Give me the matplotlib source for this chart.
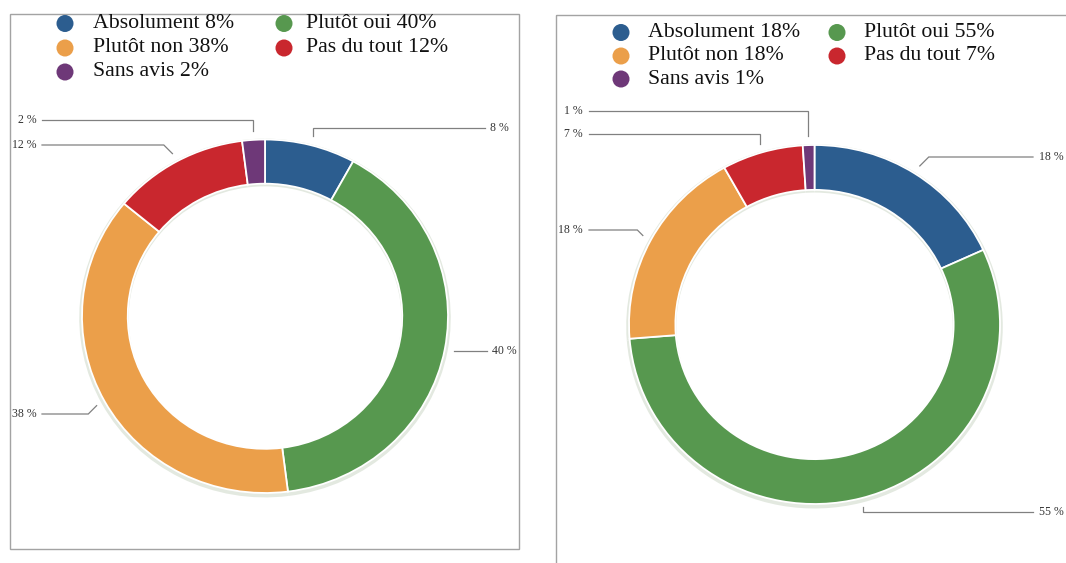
import matplotlib
matplotlib.use("Agg")
import matplotlib.pyplot as plt
from matplotlib.patches import Rectangle
import numpy as np

# ---------------- data ----------------
categories = ["Absolument", "Plutôt oui", "Plutôt non", "Pas du tout", "Sans avis"]
values_left = [8, 40, 38, 12, 2]
values_right = [18, 55, 18, 7, 1]
colors = ["#2c5d8f", "#57984f", "#eb9f4a", "#c9272e", "#6e3878"]

# ---------------- layout (pixels) ----------------
W, H = 1066, 563
fig = plt.figure(figsize=(W / 100, H / 100), dpi=100)
fig.patch.set_facecolor("white")

overlay = fig.add_axes([0, 0, 1, 1])
overlay.set_xlim(0, W)
overlay.set_ylim(H, 0)
overlay.axis("off")

SERIF = ["Liberation Serif", "DejaVu Serif"]
LINE_C = "#808080"
TXT_C = "#333333"

panels = [
    dict(values=values_left, box=(10, 14, 519, 549),
         donut=(82, 139.5, 448, 493),
         legend_cx=(65, 284), legend_tx=(93, 306), legend_y=(23.5, 48, 72),
         labels=[  # side, label y, elbow kind, line x limit, text x
             ("R", 128, "v", 485, 490),
             ("R", None, "d", 487, 492),
             ("L", 414, "d", 42, 37),
             ("L", 145, "d", 42, 37),
             ("L", 120, "v", 42, 37),
         ]),
    dict(values=values_right, box=(556, 15, 1075, 575),
         donut=(629, 145, 1000, 504),
         legend_cx=(621, 837), legend_tx=(648, 864), legend_y=(32.5, 56, 79),
         labels=[
             ("R", 157, "d", 1033, 1039),
             ("R", 512, "v", 1033, 1039),
             ("L", 230, "d", 589, 583),
             ("L", 134, "v", 589, 583),
             ("L", 111, "v", 589, 583),
         ]),
]

for p in panels:
    x0, y0, x1, y1 = p["box"]
    overlay.add_patch(Rectangle((x0, y0), x1 - x0, y1 - y0, fill=False,
                                edgecolor="#a3a3a3", linewidth=1.0))

    dx0, dy0, dx1, dy1 = p["donut"]
    cx, cy = (dx0 + dx1) / 2, (dy0 + dy1) / 2
    rx, ry = (dx1 - dx0) / 2, (dy1 - dy0) / 2
    ax = fig.add_axes([dx0 / W - 0.01, 1 - dy1 / H - 0.01,
                       (dx1 - dx0) / W + 0.02, (dy1 - dy0) / H + 0.02])
    ax.set_facecolor("none")
    # soft shadow halo
    ax.pie(p["values"], colors=["#e3e9e0"] * len(p["values"]), startangle=90,
           counterclock=False, radius=1.015, center=(0.0, -0.01),
           wedgeprops=dict(width=0.27, linewidth=0), frame=False)
    wedges, _ = ax.pie(p["values"], colors=colors, startangle=90,
                       counterclock=False, radius=1.0,
                       wedgeprops=dict(width=0.25, edgecolor="white",
                                       linewidth=1.3), frame=False)
    mx = 0.01 * W / rx
    my = 0.01 * H / ry
    ax.set_xlim(-1 - mx, 1 + mx)
    ax.set_ylim(-1 - my, 1 + my)
    ax.set_aspect("auto")
    ax.axis("off")

    # legend
    for i, (cat, v) in enumerate(zip(categories, p["values"])):
        r, c = i // 2, i % 2
        ly = p["legend_y"][r]
        overlay.scatter([p["legend_cx"][c]], [ly], s=150, color=colors[i],
                        edgecolors="none", zorder=3)
        overlay.text(p["legend_tx"][c], ly, f"{cat} {v}%", fontsize=15.7,
                     family=SERIF, color="#111111", va="center", ha="left")

    # leader lines + labels
    for w, v, (side, ly, kind, lim, tx) in zip(wedges, p["values"], p["labels"]):
        th = np.deg2rad((w.theta1 + w.theta2) / 2)
        axp = cx + rx * 1.05 * np.cos(th)
        ayp = cy - ry * 1.05 * np.sin(th)
        if ly is None:
            ly = ayp
        sgn = 1 if side == "R" else -1
        if kind == "v":
            ex = axp
        else:
            ex = axp + sgn * abs(ly - ayp)
        overlay.plot([axp, ex, lim], [ayp, ly, ly], color=LINE_C, lw=0.9,
                     solid_joinstyle="miter")
        overlay.text(tx, ly, f"{v} %", fontsize=8.5, family=SERIF, color=TXT_C,
                     va="center", ha="left" if side == "R" else "right")

fig.savefig("out.png", dpi=100, facecolor="white")
